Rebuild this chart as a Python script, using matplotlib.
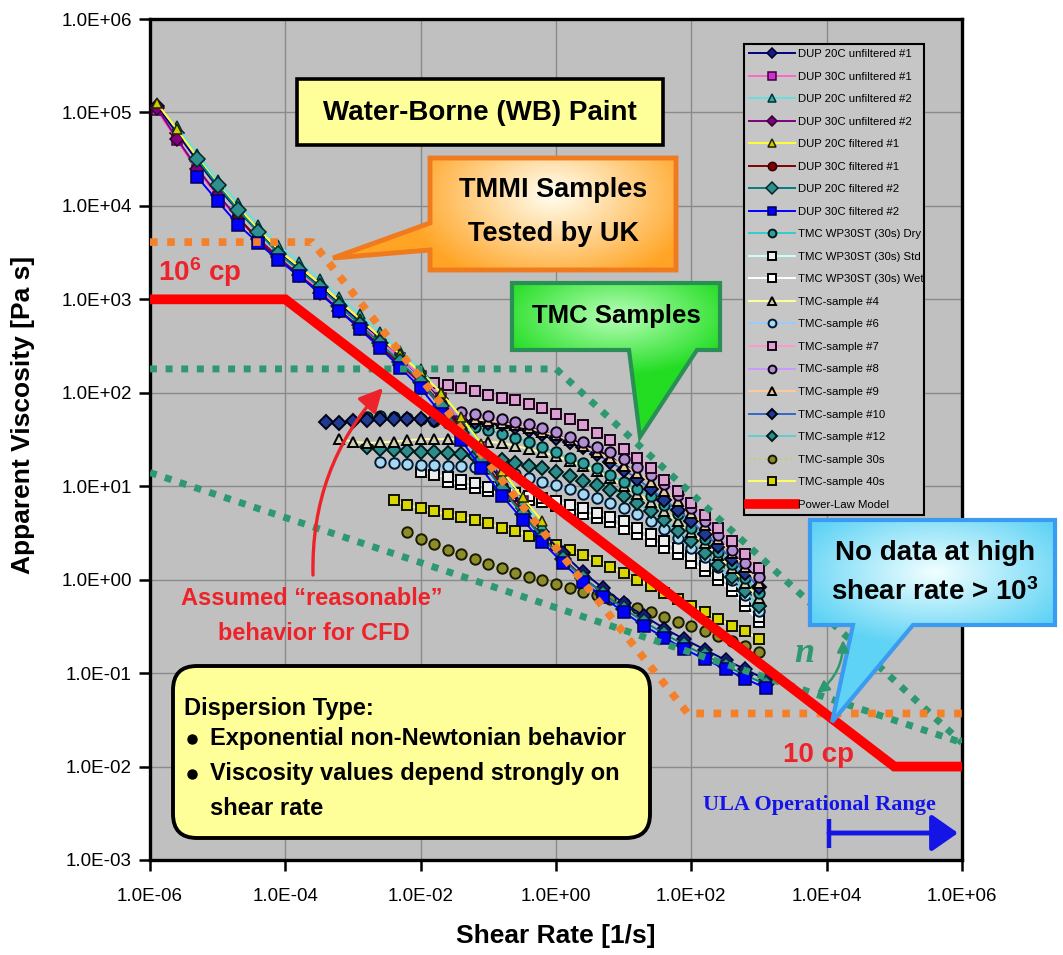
import numpy as np
import matplotlib
matplotlib.use("Agg")
import matplotlib.pyplot as plt
from matplotlib.path import Path
from matplotlib.patches import PathPatch, FancyBboxPatch, Rectangle, FancyArrowPatch
from matplotlib.colors import LinearSegmentedColormap
from matplotlib.ticker import FixedLocator, FuncFormatter, NullLocator

plt.rcParams['font.family'] = ['Liberation Sans', 'DejaVu Sans']
plt.rcParams['mathtext.fontset'] = 'custom'
plt.rcParams['mathtext.rm'] = 'Liberation Sans'
plt.rcParams['mathtext.bf'] = 'Liberation Sans:bold'
plt.rcParams['mathtext.it'] = 'Liberation Sans:italic'

nan = np.nan
W, H = 1063, 955

# ---------------- data ----------------
X_TICKS = [1e-6, 1e-4, 1e-2, 1e0, 1e2, 1e4, 1e6]
Y_TICKS = [1e-3, 1e-2, 1e-1, 1e0, 1e1, 1e2, 1e3, 1e4, 1e5, 1e6]

DUP_RATE = [1.26e-6, 2.5e-6, 5.0e-6, 1.0e-5, 2.0e-5, 4.0e-5, 7.9e-5, 1.6e-4, 3.2e-4, 6.3e-4,
            1.26e-3, 2.5e-3, 5.0e-3, 1.0e-2, 2.0e-2, 4.0e-2, 7.9e-2, 0.16, 0.32, 0.63,
            1.26, 2.5, 5.0, 10, 20, 40, 79, 160, 320, 630, 1260]

DUP20_UNF1 = [117000, 60300, 30200, 15800, 8910, 5250, 3160, 2090, 1380, 891,
              575, 372, 234, 148, 85, 44.7, 22.4, 11.2, 5.9, 3.24,
              1.91, 1.20, 0.81, 0.56, 0.41, 0.30, 0.23, 0.178, 0.138, 0.110, 0.085]
DUP30_UNF1 = [107000, 50100, 24000, 12600, 7240, 4370, 2750, 1860, 1260, 832,
              550, 363, 234, 151, 89, 50, 26.3, 13.2, 6.9] + [nan] * 12
DUP20_UNF2 = [nan] + [70800, 36300, 19100, 10700, 6310, 3800, 2510, 1660, 1070, 692,
                      447, 282, 178, 100, 52.5, 26.3, 13.2, 6.9, 3.8] + [nan] * 11
DUP30_UNF2 = [112000, 52500, 25100, 13200, 7410, 4470, 2820, 1820, 1170, 759,
              490, 316, 200, 126, 72, 38, 19.1, 9.5, 5.0, 2.82,
              1.66, 1.05, 0.72] + [nan] * 8
DUP20_FIL1 = [126000, 66100, 33100, 17000, 9550, 5620, 3390, 2240, 1480, 955,
              617, 398, 257, 166, 100, 55, 28.2, 14.5, 7.6, 4.2] + [nan] * 11
DUP30_FIL1 = [nan] * 4 + [7590, 4270, 2690, 1820, 1200, 759, 501, 316, 204, 132,
                          76, 40, 20, 10, 5.25, 2.88, 1.70, 1.07] + [nan] * 9
DUP20_FIL2 = [nan] * 2 + [31600, 16600, 9120, 5250, 3090, 2040, 1350, 851, 537, 339,
                          214, 132, 72, 37, 18.6, 9.3, 5.0, 2.82, 1.66, 1.05,
                          0.71, 0.49, 0.355, 0.263, 0.20, 0.155, 0.12, 0.095, 0.076]
DUP30_FIL2 = [nan] * 2 + [20400, 11200, 6310, 3980, 2630, 1780, 1170, 759, 479, 302,
                          186, 112, 60, 31, 15.5, 7.9, 4.4, 2.51, 1.51, 0.95,
                          0.65, 0.45, 0.32, 0.24, 0.18, 0.141, 0.11, 0.087, 0.069]

TMC_RATE = [4.0e-4, 6.3e-4, 1.0e-3, 1.6e-3, 2.5e-3, 4.0e-3, 6.3e-3, 1.0e-2, 1.6e-2, 2.5e-2,
            4.0e-2, 6.3e-2, 0.1, 0.16, 0.25, 0.4, 0.63, 1.0, 1.6, 2.5,
            4.0, 6.3, 10, 16, 25, 40, 63, 100, 160, 250, 400, 630, 1000]

WP30_DRY = [nan] * 3 + [55, 56, 55, 54, 52, 50, 48, 46, 43, 40,
                        36, 33, 30, 26, 23, 20, 17.8, 15.5, 13.2, 11.2,
                        9.3, 7.8, 6.3, 5.0, 3.6, 2.75, 2.0, 1.48, 1.05, 0.72]
WP30_STD = [nan] * 7 + [14.1, 13.2, 12.6, 11.7, 10.7, 9.8, 9.1, 8.5, 7.9, 7.4,
                        6.9, 6.3, 5.8, 5.2, 4.7, 4.2, 3.6, 3.1, 2.6, 2.2,
                        1.78, 1.41, 1.12, 0.85, 0.59, 0.40]
WP30_WET = [nan] * 9 + [11.2, 10.5, 9.5, 8.9, 8.3, 7.8, 7.2, 6.8, 6.2, 5.6,
                        5.1, 4.6, 4.1, 3.5, 3.1, 2.6, 2.2, 1.86, 1.51, 1.23,
                        0.98, 0.76, 0.52, 0.35]
TMC_S4 = [nan] + [32, 30, 29, 29.5, 30, 31, 32, 32, 32, 32,
                  31, 30, 29, 27, 25, 23, 21, 18.6, 16.6, 14.5,
                  12.3, 10.0, 8.3, 6.8, 5.4, 4.2, 3.2, 2.45, 1.82, 1.32, 0.91, 0.63]
TMC_S6 = [nan] * 4 + [18.2, 17.8, 17.4, 17.0, 17.0, 16.6, 16.6, 16.2, 15.5, 14.5,
                      13.5, 12.3, 11.2, 10.2, 9.3, 8.3, 7.4, 6.6, 5.8, 5.0,
                      4.2, 3.5, 2.8, 2.2, 1.74, 1.35, 0.98, 0.68, 0.46]
TMC_S7 = [nan] * 7 + [132, 126, 120, 112, 105, 95, 89, 83, 76, 69,
                      60, 52, 45, 37, 31, 25, 20, 15.5, 11.7, 8.9,
                      6.6, 4.9, 3.6, 2.6, 1.86, 1.32]
TMC_S8 = [nan] * 9 + [63, 62, 59, 56, 52, 49, 46, 42, 38, 34,
                      30, 26, 23, 19.5, 16.2, 13.2, 10.5, 8.1, 5.8, 4.2,
                      3.0, 2.1, 1.5, 1.07]
TMC_S9 = [nan] * 11 + [52, 50, 48, 45, 42, 38, 35, 31, 27, 23,
                       20, 16.6, 13.8, 11.2, 8.9, 6.9, 5.2, 3.8, 2.75, 1.95,
                       1.35, 0.91]
TMC_S10 = [49, 47, 50, 51, 52, 52, 52, 52, 51, 51,
           50, 49, 48, 46, 43, 40, 36, 33, 30, 26,
           22, 18, 15, 12, 9.3, 7.2, 5.5, 4.2, 3.1, 2.3,
           1.66, 1.17, 0.83]
TMC_S12 = [nan] * 3 + [26, 25, 24.5, 24, 23.5, 23, 22.4, 21.9, 20.9, 20,
                       19, 17.8, 16.6, 15.5, 14.1, 12.9, 11.5, 10.2, 9.1, 7.9,
                       6.6, 5.4, 4.3, 3.3, 2.6, 1.95, 1.45, 1.07, 0.76, 0.52]
TMC_S30 = [nan] * 6 + [3.2, 2.75, 2.4, 2.1, 1.86, 1.66, 1.48, 1.32, 1.17, 1.07,
                       0.98, 0.89, 0.81, 0.74, 0.68, 0.62, 0.56, 0.50, 0.45, 0.40,
                       0.355, 0.32, 0.28, 0.25, 0.22, 0.195, 0.17]
TMC_S40 = [nan] * 5 + [7.1, 6.3, 5.8, 5.4, 5.0, 4.7, 4.4, 4.0, 3.6, 3.3,
                       2.95, 2.6, 2.35, 2.1, 1.82, 1.58, 1.38, 1.17, 1.0, 0.85,
                       0.72, 0.62, 0.52, 0.45, 0.38, 0.32, 0.28, 0.23]

POWER_LAW_RATE = [1e-6, 1e-4, 1e5, 1e6]
POWER_LAW_VISC = [1e3, 1e3, 1e-2, 1e-2]
TMMI_ENV_RATE = [1e-6, 2.5e-4, 89, 1e6]
TMMI_ENV_VISC = [4.1e3, 4.1e3, 3.7e-2, 3.7e-2]
TMC_UP_RATE = [1e-6, 1.0, 1e6]
TMC_UP_VISC = [180, 180, 1.8e-2]
TMC_LO_RATE = [1e-6, 1e6]
TMC_LO_VISC = [14, 1.8e-2]

# ---------------- figure ----------------
fig = plt.figure(figsize=(W / 100, H / 100), dpi=100)
ax = fig.add_axes([150 / W, 1 - 860 / H, 812 / W, 841 / H])
ax.set_xscale('log')
ax.set_yscale('log')
ax.set_xlim(1e-6, 1e6)
ax.set_ylim(1e-3, 1e6)
ax.set_facecolor('#c0c0c0')
ax.xaxis.set_major_locator(FixedLocator(X_TICKS))
ax.yaxis.set_major_locator(FixedLocator(Y_TICKS))
ax.xaxis.set_minor_locator(NullLocator())
ax.yaxis.set_minor_locator(NullLocator())
fmt = FuncFormatter(lambda v, p: f"{v:.1E}")
ax.xaxis.set_major_formatter(fmt)
ax.yaxis.set_major_formatter(fmt)
ax.grid(True, which='major', color='#8a8a8a', lw=1.0)
ax.set_axisbelow(True)
ax.tick_params(direction='out', length=8, width=1.8, labelsize=13.5, colors='black')
ax.tick_params(axis='x', pad=12)
ax.tick_params(axis='y', pad=5)
for s in ax.spines.values():
    s.set_linewidth(2.4)
    s.set_color('black')

handles = {}


def series(x, y, label, lc, mk, mfc, mec, ls='-', ms=7.5, lw=1.4, z=3, mew=1.4):
    h, = ax.plot(x, y, color=lc, ls=ls, lw=lw, marker=mk, mfc=mfc, mec=mec,
                 ms=ms, mew=mew, label=label, zorder=z)
    handles[label] = h


# TMC series first (underneath)
series(TMC_RATE, TMC_S40, 'TMC-sample 40s', '#ffff66', 's', '#d8d800', '#111100')
series(TMC_RATE, TMC_S30, 'TMC-sample 30s', '#cccc66', 'o', '#8c8c2a', '#1a1a00', ls=':')
series(TMC_RATE, WP30_WET, 'TMC WP30ST (30s) Wet', '#ffffff', 's', '#ffffff', '#000000')
series(TMC_RATE, WP30_STD, 'TMC WP30ST (30s) Std', '#ccffff', 's', '#eeeeee', '#000000')
series(TMC_RATE, TMC_S6, 'TMC-sample #6', '#99ccff', 'o', '#a8d8f0', '#001a33')
series(TMC_RATE, TMC_S12, 'TMC-sample #12', '#66cccc', 'D', '#2e8b8b', '#001a1a', ms=7)
series(TMC_RATE, TMC_S4, 'TMC-sample #4', '#ffff99', '^', '#d0d0b8', '#000000')
series(TMC_RATE, WP30_DRY, 'TMC WP30ST (30s) Dry', '#33cccc', 'o', '#2fa0a0', '#001a1a')
series(TMC_RATE, TMC_S10, 'TMC-sample #10', '#3366cc', 'D', '#1f3a93', '#000014', ms=7)
series(TMC_RATE, TMC_S9, 'TMC-sample #9', '#ffcc99', '^', '#e8c8a0', '#000000')
series(TMC_RATE, TMC_S8, 'TMC-sample #8', '#cc99ff', 'o', '#b090d0', '#0d0014')
series(TMC_RATE, TMC_S7, 'TMC-sample #7', '#ff99cc', 's', '#d9a0d0', '#1a051a')

# DUP series
series(DUP_RATE, DUP20_UNF1, 'DUP 20C unfiltered #1', '#000080', 'D', '#1a1a80', '#000030', ms=7, mew=1.1)
series(DUP_RATE, DUP30_UNF1, 'DUP 30C unfiltered #1', '#ff66cc', 's', '#cc33cc', '#440044', ms=7.5, mew=1.1)
series(DUP_RATE, DUP20_UNF2, 'DUP 20C unfiltered #2', '#66e0e0', '^', '#33aaaa', '#003333', ms=7.5, mew=1.1)
series(DUP_RATE, DUP30_UNF2, 'DUP 30C unfiltered #2', '#800080', 'D', '#800080', '#300030', ms=7, mew=1.1)
series(DUP_RATE, DUP20_FIL1, 'DUP 20C filtered #1', '#ffff33', '^', '#cccc00', '#222200', ms=7.5, mew=1.1)
series(DUP_RATE, DUP30_FIL1, 'DUP 30C filtered #1', '#800000', 'o', '#800000', '#300000', ms=8, mew=1.1)
series(DUP_RATE, DUP20_FIL2, 'DUP 20C filtered #2', '#008080', 'D', '#2f8f8f', '#002a2a', ms=8.5, mew=1.1)
series(DUP_RATE, DUP30_FIL2, 'DUP 30C filtered #2', '#0000ff', 's', '#0000ff', '#000055', ms=8.5, mew=1.1)

GREEN = '#2e9970'
ORANGE = '#f4802a'
dot = (0, (1, 1.25))
ax.plot(TMC_LO_RATE, TMC_LO_VISC, color=GREEN, lw=5, ls=dot, dash_capstyle='butt', zorder=5)
ax.plot(TMC_UP_RATE, TMC_UP_VISC, color=GREEN, lw=5, ls=dot, dash_capstyle='butt', zorder=5)
ax.plot(TMMI_ENV_RATE, TMMI_ENV_VISC, color=ORANGE, lw=5.5, ls=dot, dash_capstyle='butt', zorder=6)
h, = ax.plot(POWER_LAW_RATE, POWER_LAW_VISC, color='#ff0000', lw=7, solid_joinstyle='miter',
             label='Power-Law Model', zorder=7)
handles['Power-Law Model'] = h

order = ['DUP 20C unfiltered #1', 'DUP 30C unfiltered #1', 'DUP 20C unfiltered #2',
         'DUP 30C unfiltered #2', 'DUP 20C filtered #1', 'DUP 30C filtered #1',
         'DUP 20C filtered #2', 'DUP 30C filtered #2', 'TMC WP30ST (30s) Dry',
         'TMC WP30ST (30s) Std', 'TMC WP30ST (30s) Wet', 'TMC-sample #4', 'TMC-sample #6',
         'TMC-sample #7', 'TMC-sample #8', 'TMC-sample #9', 'TMC-sample #10',
         'TMC-sample #12', 'TMC-sample 30s', 'TMC-sample 40s', 'Power-Law Model']
leg = ax.legend(handles=[handles[k] for k in order], labels=order, loc='upper left',
                bbox_to_anchor=(0.7315, 0.0, 0.2217, 0.9703), mode='expand',
                borderaxespad=0, fontsize=8.2, labelspacing=1.10, handlelength=4.0,
                handletextpad=0.3, borderpad=0.45, numpoints=1, fancybox=False,
                framealpha=1, facecolor='#c6c6c6', edgecolor='black', markerscale=0.75)
leg.get_frame().set_linewidth(1.5)
leg.set_zorder(20)

# axis labels
fig.text(23 / W, 1 - 415 / H, 'Apparent Viscosity [Pa s]', rotation=90, ha='center',
         va='center', fontsize=19, fontweight='bold')
fig.text(556 / W, 1 - 936 / H, 'Shear Rate [1/s]', ha='center', va='center',
         fontsize=19, fontweight='bold')

# ---------------- overlay annotations (pixel coordinates) ----------------
ov = fig.add_axes([0, 0, 1, 1], zorder=10)
ov.set_xlim(0, W)
ov.set_ylim(H, 0)
ov.set_autoscale_on(False)
ov.axis('off')


def callout(verts, inner, outer, edge, lw, center, half):
    path = Path(list(verts) + [verts[0]], closed=True)
    xs = [v[0] for v in verts]
    ys = [v[1] for v in verts]
    x0, x1, y0, y1 = min(xs), max(xs), min(ys), max(ys)
    X, Y = np.meshgrid(np.linspace(x0, x1, 240), np.linspace(y0, y1, 240))
    r = np.sqrt(((X - center[0]) / half[0]) ** 2 + ((Y - center[1]) / half[1]) ** 2)
    r = np.clip(r, 0, 1)
    cmap = LinearSegmentedColormap.from_list('g', [inner, outer])
    im = ov.imshow(r, cmap=cmap, vmin=0, vmax=1, extent=(x0, x1, y1, y0), origin='upper',
                   aspect='auto', zorder=2, interpolation='bilinear')
    clip = PathPatch(path, facecolor='none', edgecolor='none', transform=ov.transData)
    ov.add_patch(clip)
    im.set_clip_path(clip)
    ov.add_patch(PathPatch(path, facecolor='none', edgecolor=edge, lw=lw, zorder=3,
                           joinstyle='miter'))


# Water-Borne box
ov.add_patch(Rectangle((297, 79), 366, 66, facecolor='#ffff99', edgecolor='black', lw=2.6, zorder=3))
ov.text(480, 113, 'Water-Borne (WB) Paint', ha='center', va='center', fontsize=20,
        fontweight='bold', zorder=4)

# TMMI callout
callout([(430, 158), (676, 158), (676, 270), (430, 270), (430, 250), (333, 258), (430, 223)],
        '#fffff2', '#ffa424', '#f07a1e', 3.5, (553, 195), (150, 95))
ov.text(553, 190, 'TMMI Samples', ha='center', va='center', fontsize=19.5, fontweight='bold', zorder=4)
ov.text(553, 234, 'Tested by UK', ha='center', va='center', fontsize=19.5, fontweight='bold', zorder=4)

# TMC callout
callout([(512, 283), (720, 283), (720, 350), (697, 350), (640, 437), (629, 350), (512, 350)],
        '#b8ffb8', '#22dd22', '#2a8f55', 3.0, (616, 316), (125, 60))
ov.text(616, 316, 'TMC Samples', ha='center', va='center', fontsize=18.5, fontweight='bold', zorder=4)

# No data callout
callout([(810, 520), (1055, 520), (1055, 625), (913, 625), (832, 722), (853, 625), (810, 625)],
        '#f2ffff', '#5fd3f5', '#3a9bf0', 3.0, (935, 572), (150, 75))
ov.text(935, 553, 'No data at high', ha='center', va='center', fontsize=20, fontweight='bold', zorder=4)
ov.text(935, 592, r'shear rate > $\mathbf{10^{3}}$', ha='center', va='center', fontsize=20,
        fontweight='bold', zorder=4)

# Dispersion box
ov.add_patch(FancyBboxPatch((173, 666), 477, 172, boxstyle='round,pad=0,rounding_size=24',
                            facecolor='#ffff99', edgecolor='black', lw=2.8, zorder=3))
ov.text(184, 708, 'Dispersion Type:', ha='left', va='center', fontsize=17, fontweight='bold', zorder=4)
ov.plot([192, 192], [739, 774], 'o', color='black', ms=6.5, zorder=4)
ov.text(210, 738, 'Exponential non-Newtonian behavior', ha='left', va='center', fontsize=17,
        fontweight='bold', zorder=4)
ov.text(210, 773, 'Viscosity values depend strongly on', ha='left', va='center', fontsize=17,
        fontweight='bold', zorder=4)
ov.text(210, 808, 'shear rate', ha='left', va='center', fontsize=17, fontweight='bold', zorder=4)

RED_TXT = '#ee2229'
ov.text(158, 272, r'$\mathbf{10^{6}}$ cp', ha='left', va='center', fontsize=20,
        fontweight='bold', color=RED_TXT, zorder=4)
ov.text(783, 755, '10 cp', ha='left', va='center', fontsize=20, fontweight='bold',
        color=RED_TXT, zorder=4)
ov.text(312, 598, 'Assumed \u201creasonable\u201d', ha='center', va='center', fontsize=17,
        fontweight='bold', color=RED_TXT, zorder=4)
ov.text(314, 633, 'behavior for CFD', ha='center', va='center', fontsize=17,
        fontweight='bold', color=RED_TXT, zorder=4)
ov.add_patch(FancyArrowPatch((313, 575), (383, 388), connectionstyle='arc3,rad=-0.2',
                             arrowstyle='-|>,head_length=0.9,head_width=0.45', mutation_scale=16,
                             color=RED_TXT, lw=2.4, shrinkA=0, shrinkB=0, zorder=4))

# n slope marker
ov.text(804, 653, 'n', ha='center', va='center', fontsize=26, style='italic', fontweight='bold',
        family=['Liberation Serif', 'DejaVu Serif'], color=GREEN, zorder=4)
ov.add_patch(FancyArrowPatch((817, 693), (843, 640), connectionstyle='arc3,rad=0.25',
                             arrowstyle='<|-|>,head_length=0.7,head_width=0.35', mutation_scale=10,
                             color=GREEN, lw=1.8, shrinkA=0, shrinkB=0, zorder=4))

# ULA operational range
BLUE = '#1414e6'
ov.text(703, 805, 'ULA Operational Range', ha='left', va='center', fontsize=16,
        fontweight='bold', family=['Liberation Serif', 'DejaVu Serif'], color=BLUE, zorder=4)
ov.plot([829, 829], [819, 848], color=BLUE, lw=3.2, solid_capstyle='butt', zorder=4)
ov.add_patch(FancyArrowPatch((829, 833), (958, 833), arrowstyle='-|>,head_length=1.0,head_width=0.7',
                             mutation_scale=16, color=BLUE, lw=3.5, shrinkA=0, shrinkB=0, zorder=4))

fig.savefig('out.png', dpi=100)
